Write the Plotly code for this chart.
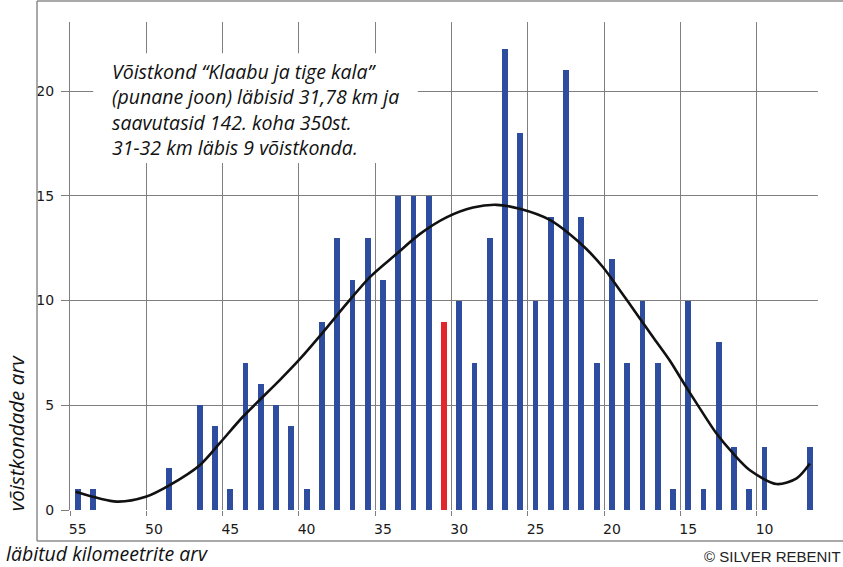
import plotly.graph_objects as go

# Distance categories (km) and number of teams
km = [55, 54, 49, 47, 46, 45, 44, 43, 42, 41, 40, 39, 38, 37, 36, 35, 34, 33, 32, 31,
      30, 29, 28, 27, 26, 25, 24, 23, 22, 21, 20, 19, 18, 17, 16, 15, 14, 13, 12, 11, 10, 7]
teams = [1, 1, 2, 5, 4, 1, 7, 6, 5, 4, 1, 9, 13, 11, 13, 11, 15, 15, 15, 9,
         10, 7, 13, 22, 18, 10, 14, 21, 14, 7, 12, 7, 10, 7, 1, 10, 1, 8, 3, 1, 3, 3]
highlight_km = 31

# Trend curve
curve_km = [55.13, 52.44, 50.54, 48.97, 47.0, 45.69, 44.19, 41.76, 40.45, 39.14, 37.39,
            35.87, 34.12, 32.59, 30.84, 29.10, 27.56, 26.04, 24.07, 22.76, 21.67, 20.58,
            19.47, 18.39, 17.30, 16.21, 15.33, 14.24, 13.15, 12.06, 10.96, 9.21, 7.90, 7.03]
curve_val = [0.87, 0.4, 0.63, 1.19, 2.14, 3.19, 4.44, 6.2, 7.2, 8.3, 9.84,
             11.11, 12.22, 13.17, 13.97, 14.44, 14.57, 14.38, 13.85, 13.17, 12.46, 11.59,
             10.48, 9.37, 8.25, 7.14, 6.1, 4.85, 3.65, 2.7, 1.9, 1.24, 1.51, 2.22]

x_ticks = [55, 50, 45, 40, 35, 30, 25, 20, 15, 10]
x_bounds = [55.5, 50.5, 45.5, 40.5, 35.5, 30.5, 25.5, 20.5, 15.5, 10.5]
y_ticks = [0, 5, 10, 15, 20]

note_lines = ["Võistkond “Klaabu ja tige kala”",
              "(punane joon) läbisid 31,78 km ja",
              "saavutasid 142. koha 350st.",
              "31-32 km läbis 9 võistkonda."]

BLUE = "#2f4d9e"
RED = "#e3262b"
GRID = "#7f7f7f"
FRAME = "#8c8c8c"
TXT = "#1a1a1a"

colors = [RED if k == highlight_km else BLUE for k in km]

fig = go.Figure()
fig.add_trace(go.Bar(x=km, y=teams, marker=dict(color=colors, line=dict(width=0)),
                     width=0.38, showlegend=False))
fig.add_trace(go.Scatter(x=curve_km, y=curve_val, mode="lines",
                         line=dict(color="#111111", width=2.6, shape="spline", smoothing=0.8),
                         showlegend=False))

fig.update_layout(
    width=843, height=567, autosize=False,
    margin=dict(l=70, r=25, t=22, b=57),
    paper_bgcolor="white", plot_bgcolor="white",
    bargap=0,
    font=dict(family="DejaVu Sans", size=14, color=TXT),
    xaxis=dict(
        range=[55.5, 6.5],
        tickmode="array", tickvals=x_ticks, ticktext=[str(v) for v in x_ticks],
        ticks="", showgrid=False, zeroline=False, showline=False,
        ticklabelstandoff=9,
        tickfont=dict(family="DejaVu Sans", size=14, color=TXT),
        minor=dict(tickmode="array", tickvals=x_bounds, ticks="outside", ticklen=5,
                   tickcolor=GRID, showgrid=True, gridcolor=GRID, gridwidth=1),
    ),
    yaxis=dict(
        range=[0, 23.3],
        tickmode="array", tickvals=y_ticks,
        ticks="outside", ticklen=8, tickcolor=GRID,
        ticklabelstandoff=4,
        showgrid=True, gridcolor=GRID, gridwidth=1,
        zeroline=False, showline=True, linecolor=GRID, linewidth=1,
        tickfont=dict(family="DejaVu Sans", size=14, color=TXT),
    ),
)

# white box behind the note (interrupts gridlines)
fig.add_shape(type="rect", xref="paper", yref="paper",
              x0=0.031, x1=0.465, y0=0.711, y1=0.936,
              fillcolor="white", line=dict(width=0), layer="above")
# outer chart frame (left, top, bottom edges)
fig.add_shape(type="line", xref="paper", yref="paper",
              x0=-0.0441, x1=-0.0441, y0=-0.0635, y1=1.043,
              line=dict(color=FRAME, width=1.5))
fig.add_shape(type="line", xref="paper", yref="paper",
              x0=-0.0441, x1=1.04, y0=-0.0635, y1=-0.0635,
              line=dict(color=FRAME, width=1.5))
fig.add_shape(type="line", xref="paper", yref="paper",
              x0=-0.0441, x1=1.04, y0=1.043, y1=1.043,
              line=dict(color=FRAME, width=1.5))

fig.add_annotation(xref="paper", yref="paper", x=0.0535, y=0.8197,
                   xanchor="left", yanchor="middle", align="left", showarrow=False,
                   text="<br>".join(note_lines),
                   font=dict(family="Open Sans", size=19.5, color="#111111", style="italic"))

fig.add_annotation(xref="paper", yref="paper", x=-0.073, y=0.158,
                   xanchor="center", yanchor="middle", textangle=-90, showarrow=False,
                   text="võistkondade arv",
                   font=dict(family="Open Sans", size=20.5, color="#111111", style="italic"))

fig.add_annotation(xref="paper", yref="paper", x=-0.088, y=-0.09,
                   xanchor="left", yanchor="middle", showarrow=False,
                   text="läbitud kilomeetrite arv",
                   font=dict(family="Open Sans", size=19.5, color="#111111", style="italic"))

fig.add_annotation(xref="paper", yref="paper", x=1.033, y=-0.095,
                   xanchor="right", yanchor="middle", showarrow=False,
                   text="© SILVER REBENIT",
                   font=dict(family="Liberation Sans", size=15, color="#222222"))

fig.write_html("out.html", config={"displayModeBar": False},
               post_script="document.body.style.margin='0';")
